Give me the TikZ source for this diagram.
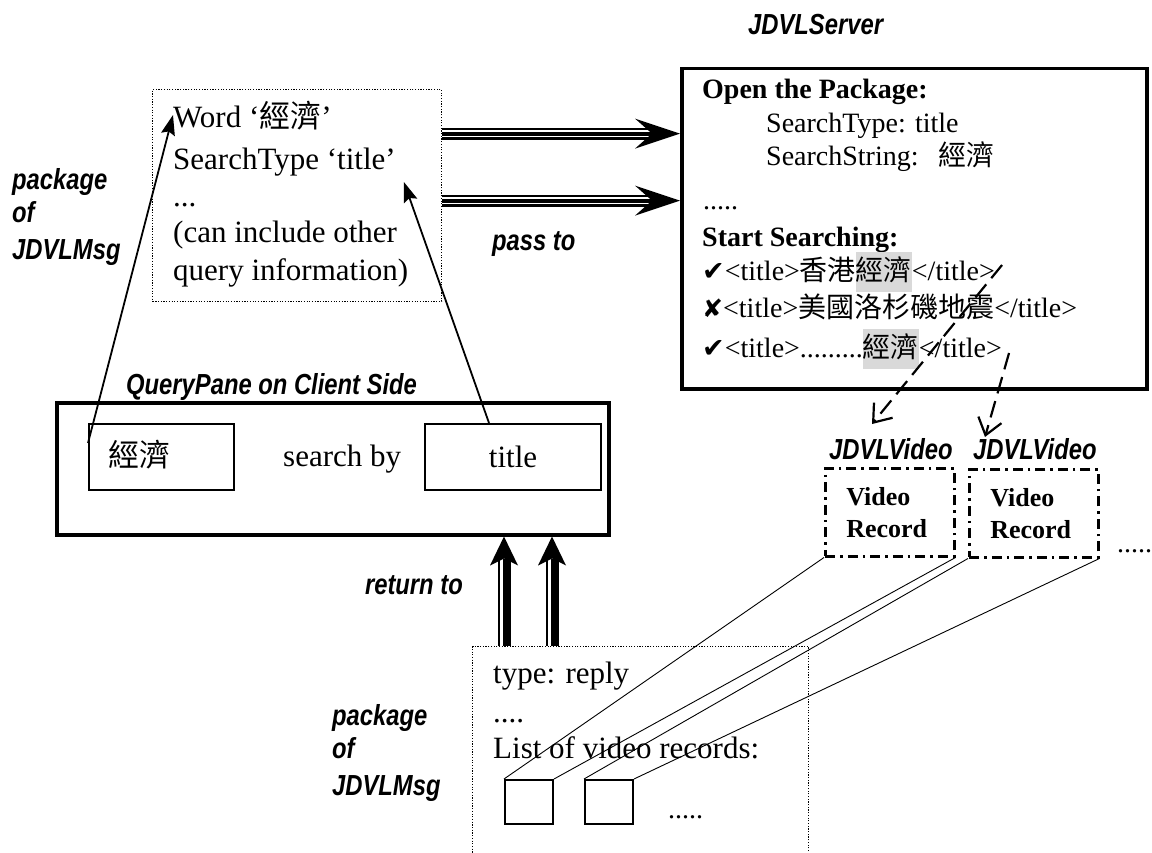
\documentclass[tikz,border=0pt]{standalone}
\usepackage{fontspec}
\setmainfont{Liberation Serif}
\newfontfamily\cjkf{Noto Sans CJK TC}
\newfontfamily\labfam[FakeStretch=0.82]{Liberation Sans}
\newfontfamily\symf{DejaVu Sans}
\usetikzlibrary{arrows.meta,calc}
\definecolor{hlgray}{gray}{0.85}
\newcommand\szA{\fontsize{31pt}{38pt}\selectfont}
\newcommand\szB{\fontsize{28pt}{34pt}\selectfont}
\newcommand\labfont{\fontsize{29pt}{34pt}\selectfont\labfam\bfseries\itshape}
% grey highlight behind a matched search string
\newcommand\hlt[1]{{\setlength{\fboxsep}{0pt}\colorbox{hlgray}{\rule[-0.43em]{0pt}{1.43em}#1}}}
\newcommand\ck{{\symf\fontsize{27pt}{30pt}\selectfont ✔}}
\newcommand\cx{{\symf\fontsize{25pt}{30pt}\selectfont ✘}}

\begin{document}
\begin{tikzpicture}[x=1pt,y=-1pt,
  lbl/.style={font=\labfont, inner sep=0pt, anchor=base west},
  ta/.style={font=\szA, inner sep=0pt, anchor=base west},
  tb/.style={font=\szB, inner sep=0pt, anchor=base west},
  heavybox/.style={draw, line width=3.5pt, anchor=north west, inner sep=0pt},
  plainbox/.style={draw, line width=2pt, anchor=north west, inner sep=0pt},
  dotbox/.style={draw, line width=1.2pt, dash pattern=on 1.2pt off 1.5pt, anchor=north west, inner sep=0pt},
  vidbox/.style={draw, line width=2.5pt, dash pattern=on 10pt off 5pt on 2.5pt off 5pt,
    anchor=north west, font=\fontsize{26pt}{32pt}\selectfont\bfseries, align=left,
    text width=87pt, inner xsep=21pt, inner ysep=0pt, minimum height=88pt},
  thinlink/.style={line width=0.9pt},
  ptr/.style={line width=1.8pt, -{Stealth[length=20pt,width=14pt,inset=3pt]}},
  dashptr/.style={line width=2.2pt, dash pattern=on 17pt off 8pt, -{Straight Barb[length=16pt,width=24pt]}},
]
\useasboundingbox (0,0) rectangle (1152,853);

% ---- boxes ----
\node[dotbox, minimum width=289pt, minimum height=212pt] (qbox) at (152,89) {};
\node[heavybox, minimum width=465pt, minimum height=320pt] (sbox) at (680,67) {};
\node[heavybox, minimum width=552pt, minimum height=132pt] (pbox) at (55,401) {};
\node[plainbox, minimum width=145pt, minimum height=66pt] (kbox) at (88,423) {};
\node[plainbox, minimum width=176pt, minimum height=66pt, font=\szA] (tbox) at (424,423) {title};
\node[dotbox, minimum width=336pt, minimum height=260pt] (rbox) at (472,646) {};
\node[vidbox] (vid1) at (824,467) {Video\\Record};
\node[vidbox] (vid2) at (968,468) {Video\\Record};
\node[plainbox, minimum width=48pt, minimum height=44pt] (sq1) at (504,779) {};
\node[plainbox, minimum width=48pt, minimum height=44pt] (sq2) at (584,779) {};

% ---- query package contents ----
\node[ta] (w1) at (173,128) {Word ‘{\cjkf 經濟}’};
\node[ta] (w2) at (173,170) {SearchType ‘title’};
\node[ta] (w3) at (173,207) {...};
\node[ta] (w4) at (173,243) {(can include other};
\node[ta] (w5) at (173,280) {query information)};

% ---- query pane contents ----
\node[ta] (kw) at (108,466) {\cjkf 經濟};
\node[ta] (sby) at (283,466) {search by};

% ---- server contents ----
\node[tb] (s1) at (702,99) {\bfseries Open the Package:};
\node[tb] (s2) at (766,133) {SearchType: title};
\node[tb] (s3) at (766,166) {SearchString:\hspace{20pt}{\cjkf 經濟}};
\node[tb] (s4) at (703,210) {.....};
\node[tb] (s5) at (702,247) {\bfseries Start Searching:};
\node[tb] (sl1) at (702,280) {\ck<title>{\cjkf 香港}\hlt{\cjkf 經濟}</title>};
\node[tb] (sl2) at (702,318) {\cx<title>{\cjkf 美國洛杉磯地震}</title>};
\node[tb] (sl3) at (702,357) {\ck<title>.........\hlt{\cjkf 經濟}</title>};

% ---- reply package contents ----
\node[ta] (r1t) at (493,683) {type: reply};
\node[ta] (r2t) at (493,722) {....};
\node[ta] (r3t) at (493,758) {List of video records:};
\node[tb] (r4t) at (668,818) {.....};
\node[tb] (vdots) at (1117,552) {.....};

% ---- labels ----
\node[lbl] (lp1) at (12,190) {package};
\node[lbl] (lp2) at (12,223) {of};
\node[lbl] (lp3) at (12,260) {JDVLMsg};
\node[lbl] (lb1) at (332,725) {package};
\node[lbl] (lb2) at (332,758) {of};
\node[lbl] (lb3) at (332,795) {JDVLMsg};
\node[lbl] (lsrv) at (748,35) {JDVLServer};
\node[lbl] (lqp) at (126,394) {QueryPane on Client Side};
\node[lbl] (lpass) at (492,251) {pass to};
\node[lbl, anchor=base east] (lret) at (463,594) {return to};
\node[lbl] (lv1) at (829,459) {JDVLVideo};
\node[lbl] (lv2) at (973,459) {JDVLVideo};

% ---- triple-line arrows: package passed to the server ----
\coordinate (t1) at ([yshift=62pt]qbox.east);
\coordinate (t2) at ([yshift=-5pt]qbox.east);
\coordinate (h1) at (t1 -| sbox.west);
\coordinate (h2) at (t2 -| sbox.west);
\foreach \s/\e in {t1/h1,t2/h2}{
  \draw[line width=12pt] (\s) -- ($(\e)+(-28,0)$);
  \draw[white, line width=1.5pt] ($(\s)+(0,-2.75)$) -- ($(\e)+(-28,-2.75)$);
  \draw[white, line width=1.5pt] ($(\s)+(0,2.75)$) -- ($(\e)+(-28,2.75)$);
  \fill (\e) -- ++(-45,-15) -- ++(17,15) -- ++(-17,15) -- cycle;
}

% ---- double arrows: reply returned to the query pane ----
\coordinate (r1) at ($(rbox.north west)+(32,0)$);
\coordinate (r2) at ($(rbox.north west)+(80,0)$);
\coordinate (q1) at (r1 |- pbox.south);
\coordinate (q2) at (r2 |- pbox.south);
\foreach \s/\e in {r1/q1,r2/q2}{
  \draw[line width=1.6pt] ($(\s)+(-5,0)$) -- ($(\e)+(-5,22)$);
  \draw[line width=8pt] ($(\s)+(3,0)$) -- ($(\e)+(3,22)$);
  \fill (\e) -- ++(-14,29) -- ++(14,-7) -- ++(14,7) -- cycle;
}

% ---- fields copied into the package ----
\draw[ptr] ($(kbox.west)+(0,-14)$) -- ($(w1.base west)+(0,-13)$);
\draw[ptr] ($(tbox.north)+(-24,0)$) -- ($(w2.base east)+(8,12)$);

% ---- matches turned into video records ----
\draw[dashptr] ($(sl1.base east)+(7,-15)$) -- ($(lv1.base west)+(43,-35)$);
\draw[dashptr] ($(sl3.base east)+(7,-4)$) -- ($(lv2.base west)+(12,-22)$);

% ---- records listed in the reply ----
\draw[thinlink] (vid1.south west) -- (sq1.north west);
\draw[thinlink] (vid1.south east) -- (sq1.north east);
\draw[thinlink] (vid2.south west) -- (sq2.north west);
\draw[thinlink] (vid2.south east) -- (sq2.north east);
\end{tikzpicture}
\end{document}
